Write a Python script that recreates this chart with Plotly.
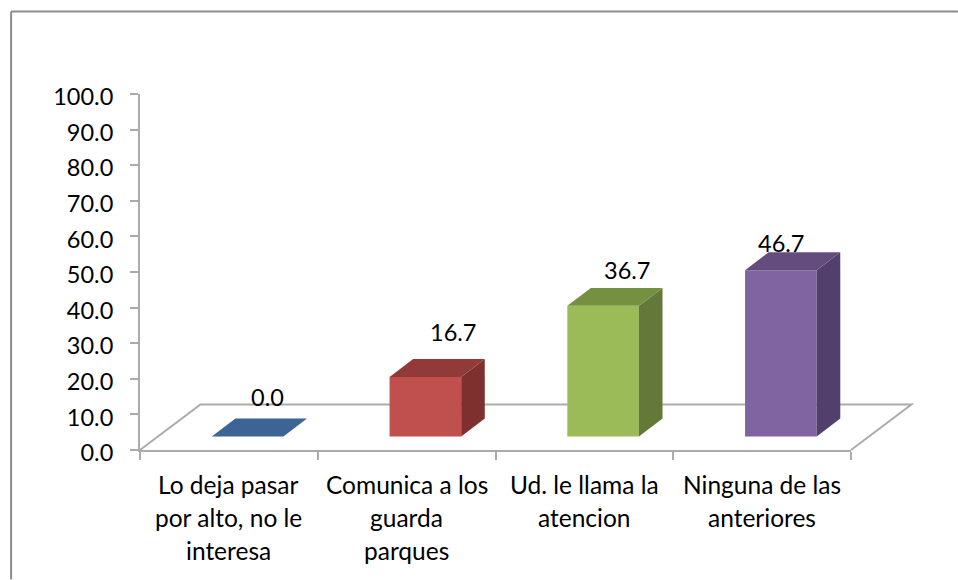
import plotly.graph_objects as go

categories = [
    ["Lo deja pasar", "por alto, no le", "interesa"],
    ["Comunica a los", "guarda", "parques"],
    ["Ud. le llama la", "atencion"],
    ["Ninguna de las", "anteriores"],
]
values = [0.0, 16.7, 36.7, 46.7]
value_labels = ["0.0", "16.7", "36.7", "46.7"]
front_colors = ["#4F81BD", "#C0504D", "#9BBB59", "#8064A2"]
top_colors = ["#3C6494", "#923A38", "#769042", "#634D7E"]
side_colors = ["#345680", "#7E302E", "#64783A", "#533F6B"]

# plot area in page pixels
W, H = 958, 580
LEFT, RIGHT, TOP, BOTTOM = 139.5, 851, 93.6, 450.4
FRAME_X, FRAME_Y = 10.5, 11
FONT = "Lato"
FONT_SIZE = 23.5
LABEL_SIZE = 24.5
AXIS_COLOR = "#ABABAB"

# fake 3d depth, in axis units
BAR_LEFT = 0.404
BAR_WIDTH = 0.403
BAR_BASE = 3.8
BAR_DX = 0.1327
BAR_DY = 5.04
FLOOR_DX = 0.34
FLOOR_DY = 12.8

fig = go.Figure()

xs = [i + BAR_LEFT + BAR_WIDTH / 2 for i in range(len(values))]
fig.add_trace(go.Bar(
    x=xs,
    y=values,
    base=BAR_BASE,
    width=BAR_WIDTH,
    marker=dict(color=front_colors, line=dict(width=0)),
    showlegend=False,
    hoverinfo="skip",
))

for i, v in enumerate(values):
    x0 = i + BAR_LEFT
    x1 = x0 + BAR_WIDTH
    y0 = BAR_BASE
    y1 = BAR_BASE + v
    # side face
    fig.add_trace(go.Scatter(
        x=[x1, x1 + BAR_DX, x1 + BAR_DX, x1, x1],
        y=[y0, y0 + BAR_DY, y1 + BAR_DY, y1, y0],
        fill="toself",
        fillcolor=side_colors[i],
        mode="lines",
        line=dict(width=0),
        showlegend=False,
        hoverinfo="skip",
    ))
    # top face
    fig.add_trace(go.Scatter(
        x=[x0, x1, x1 + BAR_DX, x0 + BAR_DX, x0],
        y=[y1, y1, y1 + BAR_DY, y1 + BAR_DY, y1],
        fill="toself",
        fillcolor=top_colors[i],
        mode="lines",
        line=dict(width=0),
        showlegend=False,
        hoverinfo="skip",
    ))

annotations = []

# labels were moved by hand in the original, so each has its own offset
label_shifts = [(20, 22), (28, 27), (24, 18), (0, 9)]
for i, v in enumerate(values):
    dx, dy = label_shifts[i]
    annotations.append(dict(
        x=xs[i],
        y=BAR_BASE + v + BAR_DY,
        xref="x",
        yref="y",
        text=value_labels[i],
        showarrow=False,
        xshift=dx,
        yshift=dy,
        xanchor="center",
        yanchor="middle",
        font=dict(family=FONT, size=FONT_SIZE, color="#000000"),
    ))

for i, lines in enumerate(categories):
    for n, line in enumerate(lines):
        annotations.append(dict(
            x=i + 0.5,
            y=0,
            xref="x",
            yref="paper",
            text=line,
            showarrow=False,
            yshift=-34.6 - 32.8 * n,
            xanchor="center",
            yanchor="middle",
            font=dict(family=FONT, size=LABEL_SIZE, color="#000000"),
        ))

plot_w = RIGHT - LEFT
plot_h = BOTTOM - TOP
floor_path = "M 0 0 L %f %f L %f %f L 1 0" % (
    FLOOR_DX / len(values), FLOOR_DY / 100,
    1 + FLOOR_DX / len(values), FLOOR_DY / 100,
)
frame_x = (FRAME_X - LEFT) / plot_w
frame_y = (BOTTOM - FRAME_Y) / plot_h
shapes = [
    dict(type="path", xref="paper", yref="paper", path=floor_path, layer="below",
         line=dict(color=AXIS_COLOR, width=2)),
    # chart frame, only left and top show up
    dict(type="line", xref="paper", yref="paper",
         x0=frame_x, x1=(W - LEFT) / plot_w, y0=frame_y, y1=frame_y,
         line=dict(color="#8C8C8C", width=2)),
    dict(type="line", xref="paper", yref="paper",
         x0=frame_x, x1=frame_x, y0=frame_y, y1=(BOTTOM - H) / plot_h,
         line=dict(color="#8C8C8C", width=2)),
]

fig.update_layout(
    width=W,
    height=H,
    margin=dict(l=LEFT, r=W - RIGHT, t=TOP, b=H - BOTTOM, pad=0),
    paper_bgcolor="#FFFFFF",
    plot_bgcolor="rgba(0,0,0,0)",
    font=dict(family=FONT, size=FONT_SIZE, color="#000000"),
    annotations=annotations,
    shapes=shapes,
    xaxis=dict(
        range=[0, len(values)],
        tickvals=list(range(len(values) + 1)),
        showticklabels=False,
        ticks="outside",
        ticklen=8,
        tickwidth=1.5,
        tickcolor=AXIS_COLOR,
        showline=True,
        linecolor=AXIS_COLOR,
        linewidth=2,
        showgrid=False,
        zeroline=False,
    ),
    yaxis=dict(
        range=[0, 100],
        dtick=10,
        tickformat=".1f",
        ticks="outside",
        ticklen=8,
        tickwidth=1.5,
        tickcolor=AXIS_COLOR,
        ticklabelstandoff=12,
        ticklabelshift=3,
        showline=True,
        linecolor=AXIS_COLOR,
        linewidth=2,
        showgrid=False,
        zeroline=False,
    ),
)

# drop the default body margin so the figure fills the window
fig.write_html(
    "out.html",
    config={"displayModeBar": False},
    post_script="document.body.style.margin = '0';",
)
